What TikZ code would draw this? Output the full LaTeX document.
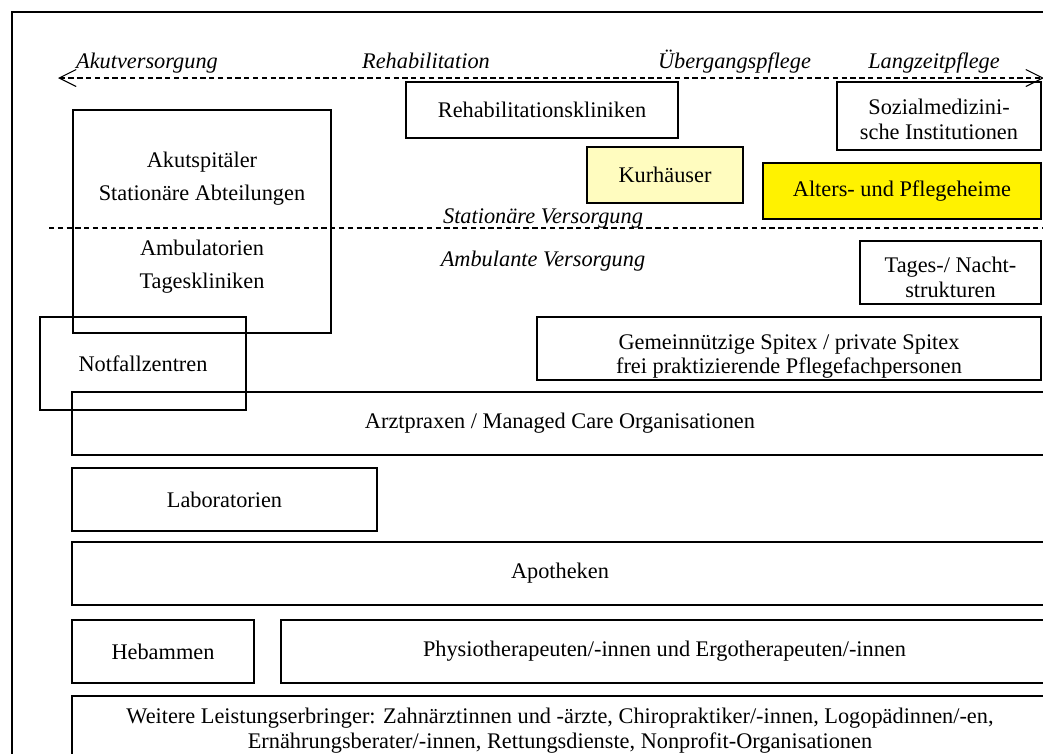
\documentclass[tikz,border=0pt]{standalone}
\usepackage{fontspec}
\setmainfont{Liberation Serif}
\usepackage{tikz}
\usetikzlibrary{arrows.meta}

\newcommand{\diagfont}{\fontsize{12.7}{14.2}\selectfont}

\begin{document}
\begin{tikzpicture}[
  every node/.style={font=\diagfont, align=center},
  box/.style={rectangle, draw, line width=0.75pt, inner sep=0pt, align=center},
  phase/.style={font=\diagfont\itshape, anchor=base},
  dashline/.style={dash pattern=on 3pt off 2pt, line width=0.6pt},
  barb/.style={{Straight Barb[length=3.4mm,width=3.4mm]}-{Straight Barb[length=3.4mm,width=3.4mm]}}
]
\useasboundingbox (0,0) rectangle (20.86,-15.06);
\clip (0,0) rectangle (20.86,-15.06);

% Frame
\draw[line width=0.8pt] (0.24,-0.24) rectangle (22,-16);

% Phases
\coordinate (pstart) at (1.16,-1.56);
\coordinate (pend) at (20.88,-1.56);
\draw[dashline, barb] (pstart) -- (pend);
\node[phase] (akutv) at (2.94,-1.36) {Akutversorgung};
\node[phase] (rehav) at (8.52,-1.36) {Rehabilitation};
\node[phase] (uebergang) at (14.69,-1.36) {Übergangspflege};
\node[phase] (langzeit) at (18.68,-1.36) {Langzeitpflege};

% Stationaer / ambulant
\coordinate (sleft) at (0.98,-4.56);
\coordinate (sright) at (20.9,-4.56);
\draw[dashline] (sleft) -- (sright);
\node[phase] (stat) at (10.86,-4.46) {Stationäre Versorgung};
\node[phase] (amb) at (10.86,-5.32) {Ambulante Versorgung};

% Stationaere Einrichtungen
\node[box, minimum width=5.16cm, minimum height=4.46cm] (akut) at (4.04,-4.43) {};
\node (akuttxt) at (4.04,-3.57) {Akutspitäler\\[4.6pt]Stationäre Abteilungen};
\node (ambtxt) at (4.04,-5.34) {Ambulatorien\\[4.6pt]Tageskliniken};
\node[box, minimum width=5.44cm, minimum height=1.12cm] (reha) at (10.84,-2.2) {Rehabilitationskliniken};
\node[box, fill=yellow!25, minimum width=3.12cm, minimum height=1.12cm] (kur) at (13.3,-3.5) {Kurhäuser};
\node[box, minimum width=4.08cm, minimum height=1.36cm] (sozial) at (18.78,-2.32) {};
\node (sozialtxt) at ([yshift=-0.6mm]sozial.center) {Sozialmedizini-\\sche Institutionen};
\node[box, fill=yellow, minimum width=5.56cm, minimum height=1.12cm] (alters) at (18.04,-3.82) {Alters- und Pflegeheime};

% Ambulante Einrichtungen
\node[box, minimum width=3.62cm, minimum height=1.26cm] (tages) at (19.01,-5.45) {};
\node (tagestxt) at ([yshift=-1mm]tages.center) {Tages-/ Nacht-\\strukturen};
\node[box, minimum width=10.08cm, minimum height=1.26cm] (spitex) at (15.78,-6.97) {};
\node (spitextxt) at ([yshift=-1.6mm]spitex.center) {Gemeinnützige Spitex / private Spitex\\frei praktizierende Pflegefachpersonen};
\node[box, minimum width=4.12cm, minimum height=1.86cm] (notfall) at (2.86,-7.27) {Notfallzentren};
\node[box, minimum width=19.52cm, minimum height=1.26cm] (arzt) at (11.2,-8.47) {Arztpraxen / Managed Care Organisationen};
\node[box, minimum width=6.1cm, minimum height=1.26cm] (labor) at (4.49,-9.99) {Laboratorien};
\node[box, minimum width=19.52cm, minimum height=1.26cm] (apo) at (11.2,-11.47) {Apotheken};
\node[box, minimum width=3.64cm, minimum height=1.26cm] (hebammen) at (3.26,-13.03) {Hebammen};
\node[box, minimum width=15.34cm, minimum height=1.26cm] (physio) at (13.29,-13.03) {Physiotherapeuten/-innen und Ergotherapeuten/-innen};
\node[box, minimum width=19.52cm, minimum height=1.46cm] (weitere) at (11.2,-14.65) {};
\node (weiteretxt) at ([yshift=0.4mm]weitere.center) {Weitere Leistungserbringer: Zahnärztinnen und -ärzte, Chiropraktiker/-innen, Logopädinnen/-en,\\Ernährungsberater/-innen, Rettungsdienste, Nonprofit-Organisationen};

\end{tikzpicture}
\end{document}
